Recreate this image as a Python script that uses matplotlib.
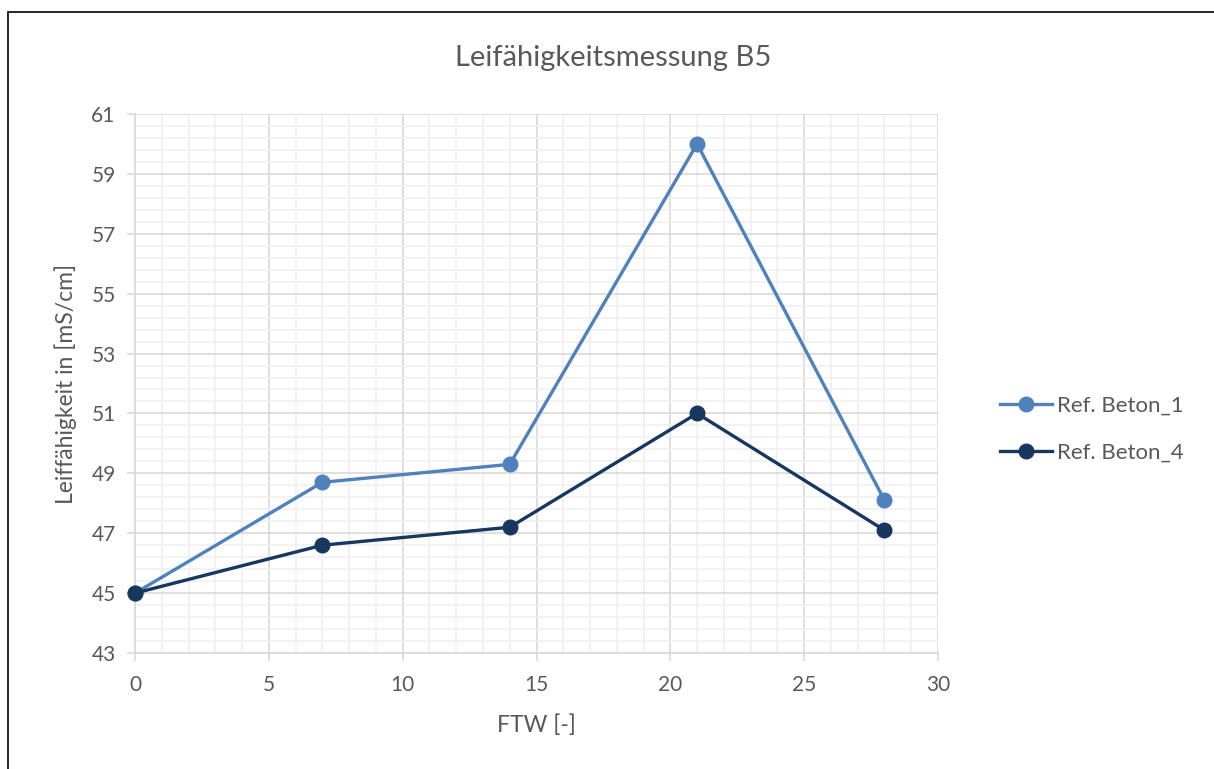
import matplotlib
matplotlib.use("Agg")
import matplotlib.pyplot as plt
from matplotlib.patches import Rectangle
from matplotlib.ticker import FixedLocator, MultipleLocator
import numpy as np

# Measurement data
ftw = [0, 7, 14, 21, 28]
beton_1 = [45.0, 48.7, 49.3, 60.0, 48.1]
beton_4 = [45.0, 46.6, 47.2, 51.0, 47.1]
series_names = ["Ref. Beton_1", "Ref. Beton_4"]
y_ticks = [43, 45, 47, 49, 51, 53, 55, 57, 59, 61]
x_ticks = [0, 5, 10, 15, 20, 25, 30]
title = "Leifähigkeitsmessung B5"
x_label = "FTW [-]"
y_label = "Leiffähigkeit in [mS/cm]"

plt.rcParams["font.family"] = ["Lato", "DejaVu Sans"]
text_color = "#595959"
major_grid = "#D9D9D9"
minor_grid = "#F0F0F0"

W, H = 1214, 769
fig = plt.figure(figsize=(W / 100, H / 100), dpi=100)
fig.patch.set_facecolor("white")

# Outer chart frame
fig.patches.append(Rectangle((8 / W, -0.05), 1.2, 1 - 12 / H + 0.05,
                             transform=fig.transFigure, fill=False,
                             edgecolor="black", linewidth=1.2))

ax = fig.add_axes([135 / W, 1 - 653 / H, (938 - 135) / W, (653 - 114) / H])

ax.plot(ftw, beton_1, color="#4F81BD", linewidth=2.4, marker="o",
        markersize=10.5, label=series_names[0], zorder=3, clip_on=False)
ax.plot(ftw, beton_4, color="#17375E", linewidth=2.4, marker="o",
        markersize=10.5, label=series_names[1], zorder=4, clip_on=False)

ax.set_xlim(x_ticks[0], x_ticks[-1])
ax.set_ylim(y_ticks[0], y_ticks[-1])
ax.xaxis.set_major_locator(FixedLocator(x_ticks))
ax.xaxis.set_minor_locator(MultipleLocator(1))
ax.yaxis.set_major_locator(FixedLocator(y_ticks))
minor_step = (y_ticks[1] - y_ticks[0]) / 5
ax.yaxis.set_minor_locator(FixedLocator(
    np.arange(y_ticks[0], y_ticks[-1] + 1e-9, minor_step)))

ax.grid(which="major", color=major_grid, linewidth=1.2, zorder=1)
ax.grid(which="minor", color=minor_grid, linewidth=1.2, zorder=0)
ax.set_axisbelow(True)

for side in ["top", "right"]:
    ax.spines[side].set_visible(False)
for side in ["left", "bottom"]:
    ax.spines[side].set_color(major_grid)
    ax.spines[side].set_linewidth(1.2)

ax.tick_params(which="major", length=6, width=1.2, color=major_grid,
               labelsize=15, labelcolor=text_color)
ax.tick_params(axis="x", pad=10)
ax.tick_params(axis="y", pad=8)
ax.tick_params(which="minor", length=0)

ax.set_xlabel(x_label, fontsize=16.5, color=text_color, labelpad=14)
ax.set_ylabel(y_label, fontsize=16.5, color=text_color, labelpad=10)
fig.text(613 / W, 1 - 58 / H, title, ha="center", va="center",
         fontsize=21, color=text_color)

leg = fig.legend(handles=ax.get_lines(), labels=series_names,
                 loc="center left", bbox_to_anchor=(1000 / W, 1 - 429 / H),
                 bbox_transform=fig.transFigure, frameon=False, fontsize=16,
                 handlelength=2.35, handletextpad=0.2, labelspacing=1.2,
                 borderpad=0, borderaxespad=0)
for t in leg.get_texts():
    t.set_color(text_color)

fig.savefig("out.png", dpi=100, facecolor="white")
